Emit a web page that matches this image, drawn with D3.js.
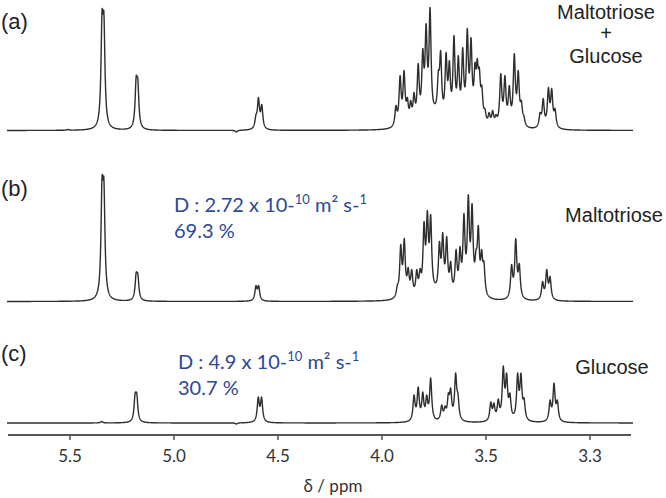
<!DOCTYPE html>
<html><head><meta charset="utf-8">
<script src="https://cdn.jsdelivr.net/npm/d3@7"></script>
<style>html,body{margin:0;padding:0;background:#fff}svg{display:block}</style>
</head><body>
<svg id="c" width="666" height="498"></svg>
<script>
// ---------- DATA ----------
// peaks: [chemical shift (ppm), height (intensity units), optional width factor]
const peaksA = [
  [5.51,1],[5.346,120],[5.337,118],[5.182,54],[5.174,52],
  [4.70,-1.5],[4.606,16],[4.594,33],[4.578,26],
  [3.933,25],[3.913,55],[3.894,60],[3.878,33],[3.862,30],[3.846,38],[3.826,67],
  [3.804,82],[3.788,107],[3.769,123],[3.745,27,3],[3.729,60],[3.718,80],[3.692,78],[3.676,70],
  [3.654,95],[3.633,75],[3.612,83],[3.590,102],[3.572,93],[3.553,68],[3.542,72],
  [3.532,63],[3.520,45],[3.505,22],[3.485,18],[3.468,20],[3.452,16],[3.440,18],
  [3.429,57],[3.409,55],[3.388,45],[3.364,77],[3.345,60],[3.330,30],[3.318,15],
  [3.240,18],[3.225,32],[3.200,43],[3.184,42],[3.168,22]
];
const peaksB = [
  [5.346,125],[5.337,123],[5.182,29],[5.174,28],[4.606,16],[4.593,16],
  [3.926,17],[3.910,57],[3.893,63],[3.874,34],[3.857,32],[3.846,14,2],[3.833,32],[3.817,33],
  [3.798,80],[3.782,91],[3.766,87],[3.745,19,3],[3.724,60],[3.708,69],[3.689,65],[3.670,40],
  [3.644,52],[3.625,55],[3.606,88],[3.585,107],[3.567,98],[3.548,52],[3.537,76],
  [3.521,52],[3.510,40],
  [3.377,37],[3.357,63],[3.340,38],
  [3.228,20],[3.208,32],[3.192,25]
];
const peaksC = [
  [5.348,1.5],[5.187,30],[5.179,30],[4.70,-1],[4.595,26],[4.579,26],
  [3.846,28],[3.826,36],[3.804,31],[3.785,28],[3.766,45],
  [3.713,18],[3.697,17],[3.681,30],[3.670,35],[3.646,50],[3.635,30],
  [3.477,21],[3.462,20],[3.441,24],[3.417,57],[3.401,50],[3.385,30],
  [3.348,50],[3.332,50],[3.317,25],
  [3.192,23],[3.173,40],[3.157,23]
];
const spectraNames = ["(a)","(b)","(c)"];
const compoundLabels = [["Maltotriose","+","Glucose"],["Maltotriose"],["Glucose"]];
const diffusionText = [null, ["2.72","69.3 %"], ["4.9","30.7 %"]];
const tickValues = [5.5,5.0,4.5,4.0,3.5,3.0];
const tickLabels = ["5.5","5.0","4.5","4.0","3.5","3.3"];
const axisTitle = "δ / ppm";

// ---------- RENDER ----------
const svg = d3.select("#c");
const x = d3.scaleLinear().domain([5.5, 3.5]).range([70, 486]);
const ppmLeft = x.invert(7), ppmRight = x.invert(633);
const gamma = 0.0060;
const L = (d,g) => 1/(1+(d/g)*(d/g));

function fitAmps(peaks){
  const pos = peaks.map(p=>p[0]), tgt = peaks.map(p=>p[1]), g = peaks.map(p=>gamma*(p[2]||1));
  let a = tgt.slice();
  for(let it=0; it<120; it++){
    const s = pos.map(pi => d3.sum(pos, (pj,j)=>a[j]*L(pi-pj,g[j])));
    a = a.map((v,i)=>{ let n = v + 0.5*(tgt[i]-s[i]); if(tgt[i]>0 && n<0) n=0; return n; });
  }
  return {a,g};
}
function curve(peaks){
  const {a,g} = fitAmps(peaks);
  const pts = [];
  for(let p=ppmLeft; p>=ppmRight; p-=0.0008){
    let v=0; peaks.forEach((pk,j)=>{ v += a[j]*L(p-pk[0],g[j]); });
    pts.push([p,v]);
  }
  return pts;
}

const panels = [
  {peaks:peaksA, base:130.5},
  {peaks:peaksB, base:301.5},
  {peaks:peaksC, base:423}
];
panels.forEach((pn,i)=>{
  const y = d3.scaleLinear().domain([0,125]).range([pn.base, pn.base-125]);
  const line = d3.line().x(d=>x(d[0])).y(d=>y(d[1]));
  svg.append("path").attr("d", line(curve(pn.peaks)))
    .attr("fill","none").attr("stroke","#2e2e2e").attr("stroke-width",1.4)
    .attr("stroke-linejoin","round");
});

// panel letters
const letterY = [28.5, 195.5, 360.5];
spectraNames.forEach((t,i)=>{
  svg.append("text").attr("x",1).attr("y",letterY[i]).text(t)
    .attr("font-family","Liberation Sans, Arial, sans-serif").attr("font-size",22).attr("fill","#222");
});
// compound labels
const compPos = [[606,[18.5,40,63]],[614,[222]],[612,[374]]];
compoundLabels.forEach((lines,i)=>{
  lines.forEach((t,k)=>{
    svg.append("text").attr("x",compPos[i][0]).attr("y",compPos[i][1][k]).text(t)
      .attr("text-anchor","middle")
      .attr("font-family","Liberation Sans, Arial, sans-serif").attr("font-size",20).attr("fill","#222");
  });
});
// diffusion coefficients (blue)
const diffPos = [null,[174,211.5,238],[178,369,395]];
diffusionText.forEach((d,i)=>{
  if(!d) return;
  const [xx,y1,y2] = diffPos[i];
  const t = svg.append("text").attr("x",xx).attr("y",y1)
    .attr("font-family","Lato, sans-serif").attr("font-size",20).attr("fill","#2c4898");
  t.append("tspan").text("D : "+d[0]+" x 10-");
  t.append("tspan").attr("font-size",13).attr("dy",-8).text("10");
  t.append("tspan").attr("dy",8).text(" m² s-");
  t.append("tspan").attr("font-size",13).attr("dy",-8).text("1");
  svg.append("text").attr("x",xx).attr("y",y2).text(d[1])
    .attr("font-family","Lato, sans-serif").attr("font-size",20).attr("fill","#2c4898");
});

// axis
const axisY = 435;
svg.append("line").attr("x1",8).attr("x2",631).attr("y1",axisY).attr("y2",axisY)
  .attr("stroke","#555").attr("stroke-width",2);
const ax = svg.append("g");
tickValues.forEach((v,i)=>{
  ax.append("line").attr("x1",x(v)).attr("x2",x(v)).attr("y1",axisY).attr("y2",axisY+5)
    .attr("stroke","#555").attr("stroke-width",1.5);
  ax.append("text").attr("x",x(v)).attr("y",462).attr("text-anchor","middle").text(tickLabels[i])
    .attr("font-family","Lato, sans-serif").attr("font-size",17).attr("fill","#333");
});
svg.append("text").attr("x",333).attr("y",492).attr("text-anchor","middle").text(axisTitle)
  .attr("font-family","Lato, sans-serif").attr("font-size",17).attr("fill","#333");
</script>
</body></html>
